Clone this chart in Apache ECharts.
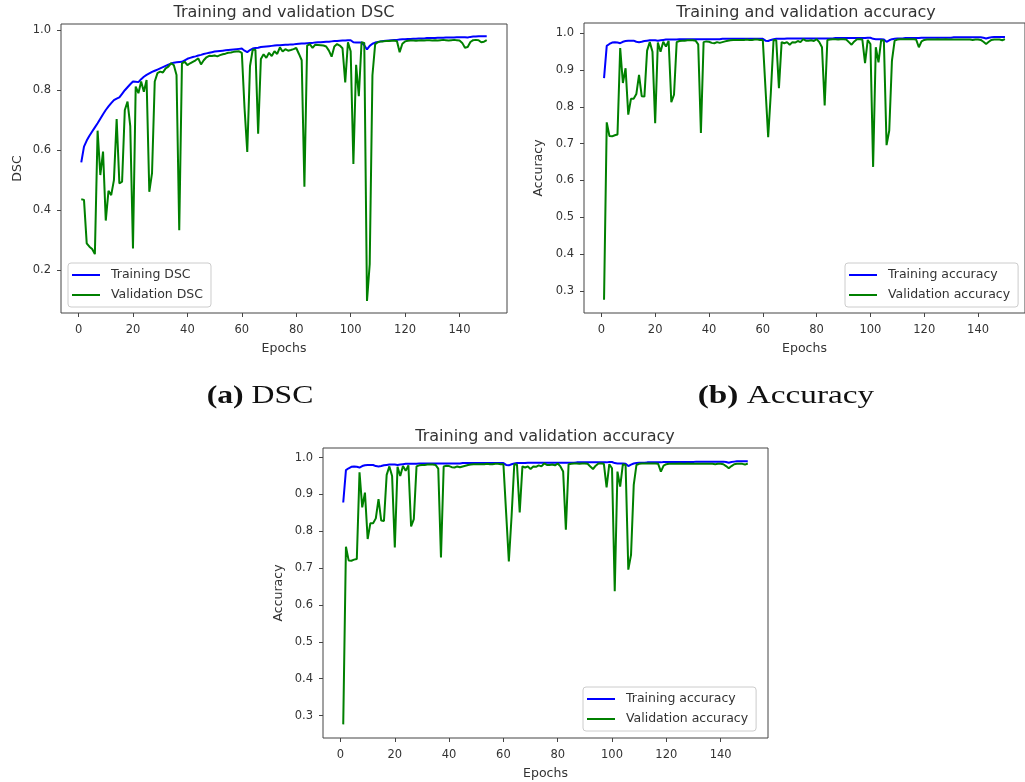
<!DOCTYPE html>
<html>
<head>
<meta charset="utf-8">
<title>Training and validation curves</title>
<script src="https://cdn.jsdelivr.net/npm/echarts@6/dist/echarts.min.js"></script>
<style>
  html, body { margin: 0; padding: 0; background: #fff; }
  #chart { width: 1025px; height: 782px; }
</style>
</head>
<body>
<div id="chart"></div>
<script>
// epochs 1..150
const epochs = Array.from({ length: 150 }, (_, i) => i + 1);
const xTicks = [0, 20, 40, 60, 80, 100, 120, 140];
const dscTicks = [0.2, 0.4, 0.6, 0.8, 1.0];
const accTicks = [0.3, 0.4, 0.5, 0.6, 0.7, 0.8, 0.9, 1.0];

// 训练 DSC
const trainDSC = [
    0.559, 0.612, 0.632, 0.648, 0.662, 0.676, 0.690, 0.705, 0.720, 0.734,
    0.746, 0.757, 0.767, 0.772, 0.776, 0.788, 0.800, 0.810, 0.820, 0.829,
    0.828, 0.827, 0.837, 0.845, 0.851, 0.856, 0.861, 0.865, 0.869, 0.873,
    0.877, 0.881, 0.885, 0.889, 0.892, 0.893, 0.894, 0.895, 0.900, 0.905,
    0.908, 0.911, 0.913, 0.916, 0.918, 0.921, 0.923, 0.925, 0.927, 0.929,
    0.930, 0.931, 0.932, 0.933, 0.934, 0.935, 0.936, 0.937, 0.938, 0.939,
    0.932, 0.927, 0.934, 0.939, 0.941, 0.942, 0.944, 0.945, 0.946, 0.947,
    0.948, 0.949, 0.950, 0.950, 0.951, 0.952, 0.952, 0.953, 0.953, 0.954,
    0.955, 0.956, 0.956, 0.957, 0.958, 0.958, 0.959, 0.960, 0.960, 0.961,
    0.962, 0.962, 0.963, 0.964, 0.964, 0.965, 0.966, 0.966, 0.967, 0.967,
    0.960, 0.959, 0.959, 0.959, 0.950, 0.936, 0.948, 0.955, 0.959, 0.961,
    0.963, 0.964, 0.965, 0.966, 0.967, 0.968, 0.968, 0.969, 0.970, 0.970,
    0.971, 0.971, 0.972, 0.972, 0.973, 0.973, 0.973, 0.974, 0.974, 0.974,
    0.974, 0.975, 0.975, 0.975, 0.976, 0.976, 0.976, 0.976, 0.977, 0.977,
    0.977, 0.977, 0.976, 0.978, 0.979, 0.979, 0.980, 0.980, 0.980, 0.980
];

// 验证 DSC
const valDSC = [
    0.436, 0.434, 0.289, 0.278, 0.270, 0.253, 0.665, 0.517, 0.595, 0.365,
    0.464, 0.450, 0.500, 0.704, 0.489, 0.495, 0.734, 0.762, 0.680, 0.272,
    0.812, 0.790, 0.829, 0.795, 0.834, 0.461, 0.523, 0.829, 0.857, 0.862,
    0.859, 0.873, 0.879, 0.890, 0.884, 0.851, 0.333, 0.890, 0.895, 0.884,
    0.890, 0.895, 0.900, 0.906, 0.886, 0.900, 0.910, 0.915, 0.914, 0.916,
    0.913, 0.917, 0.920, 0.922, 0.925, 0.926, 0.928, 0.929, 0.930, 0.925,
    0.740, 0.594, 0.880, 0.935, 0.935, 0.655, 0.904, 0.920, 0.908, 0.925,
    0.914, 0.930, 0.921, 0.943, 0.929, 0.937, 0.932, 0.934, 0.937, 0.941,
    0.921, 0.900, 0.478, 0.949, 0.954, 0.941, 0.952, 0.951, 0.950, 0.949,
    0.946, 0.932, 0.912, 0.946, 0.954, 0.949, 0.940, 0.826, 0.960, 0.930,
    0.554, 0.885, 0.780, 0.960, 0.958, 0.097, 0.220, 0.850, 0.954, 0.960,
    0.963, 0.963, 0.964, 0.964, 0.965, 0.965, 0.964, 0.927, 0.955, 0.963,
    0.965, 0.966, 0.966, 0.965, 0.966, 0.967, 0.966, 0.967, 0.967, 0.966,
    0.967, 0.966, 0.967, 0.968, 0.967, 0.966, 0.967, 0.968, 0.967, 0.966,
    0.958, 0.942, 0.944, 0.961, 0.967, 0.968, 0.967, 0.960, 0.962, 0.967
];

// 训练准确率
const trainAcc = [
    0.878, 0.966, 0.971, 0.975, 0.976, 0.975, 0.973, 0.977, 0.979, 0.980,
    0.980, 0.980, 0.977, 0.976, 0.977, 0.979, 0.980, 0.981, 0.981, 0.981,
    0.980, 0.981, 0.982, 0.983, 0.983, 0.983, 0.983, 0.983, 0.984, 0.984,
    0.984, 0.984, 0.984, 0.984, 0.984, 0.984, 0.984, 0.984, 0.984, 0.984,
    0.984, 0.984, 0.984, 0.984, 0.985, 0.985, 0.985, 0.985, 0.985, 0.985,
    0.985, 0.985, 0.985, 0.985, 0.985, 0.985, 0.985, 0.985, 0.985, 0.985,
    0.980, 0.979, 0.982, 0.984, 0.985, 0.985, 0.985, 0.985, 0.986, 0.986,
    0.986, 0.986, 0.986, 0.986, 0.986, 0.986, 0.986, 0.986, 0.986, 0.986,
    0.986, 0.986, 0.986, 0.986, 0.986, 0.986, 0.987, 0.987, 0.987, 0.987,
    0.987, 0.987, 0.987, 0.987, 0.987, 0.987, 0.987, 0.987, 0.988, 0.988,
    0.985, 0.984, 0.984, 0.984, 0.983, 0.977, 0.981, 0.984, 0.985, 0.986,
    0.986, 0.986, 0.987, 0.987, 0.987, 0.987, 0.987, 0.987, 0.988, 0.988,
    0.988, 0.988, 0.988, 0.988, 0.988, 0.988, 0.988, 0.988, 0.988, 0.988,
    0.989, 0.989, 0.989, 0.989, 0.989, 0.989, 0.989, 0.989, 0.989, 0.989,
    0.989, 0.988, 0.986, 0.988, 0.989, 0.990, 0.990, 0.990, 0.990, 0.990
];

// 验证准确率
const valAcc = [
    0.276, 0.758, 0.721, 0.720, 0.723, 0.725, 0.960, 0.865, 0.905, 0.779,
    0.822, 0.822, 0.835, 0.887, 0.829, 0.828, 0.953, 0.976, 0.950, 0.756,
    0.975, 0.950, 0.977, 0.964, 0.979, 0.813, 0.833, 0.976, 0.979, 0.980,
    0.980, 0.981, 0.981, 0.981, 0.980, 0.970, 0.729, 0.976, 0.978, 0.977,
    0.974, 0.973, 0.976, 0.974, 0.976, 0.978, 0.980, 0.981, 0.982, 0.982,
    0.982, 0.982, 0.982, 0.983, 0.982, 0.982, 0.983, 0.983, 0.982, 0.982,
    0.850, 0.718, 0.840, 0.982, 0.981, 0.851, 0.976, 0.973, 0.976, 0.969,
    0.976, 0.975, 0.979, 0.976, 0.984, 0.980, 0.980, 0.981, 0.979, 0.984,
    0.976, 0.962, 0.804, 0.982, 0.983, 0.984, 0.984, 0.983, 0.984, 0.984,
    0.983, 0.976, 0.969, 0.978, 0.984, 0.984, 0.983, 0.919, 0.982, 0.971,
    0.637, 0.962, 0.921, 0.982, 0.980, 0.696, 0.736, 0.926, 0.980, 0.983,
    0.984, 0.984, 0.984, 0.984, 0.984, 0.984, 0.983, 0.962, 0.978, 0.982,
    0.983, 0.983, 0.983, 0.983, 0.984, 0.983, 0.983, 0.984, 0.983, 0.983,
    0.983, 0.983, 0.983, 0.983, 0.983, 0.983, 0.983, 0.982, 0.983, 0.983,
    0.982, 0.977, 0.971, 0.977, 0.982, 0.983, 0.983, 0.983, 0.981, 0.984
];

document.addEventListener('DOMContentLoaded', function () {
    const chartDom = document.getElementById('chart');
    const myChart = echarts.init(chartDom, null, { renderer: 'canvas' });

    const FONT = 'DejaVu Sans';
    const SERIF = 'Liberation Serif';
    const TEXT = '#333';
    const FRAME = '#444';
    const BLUE = '#0000ff';
    const GREEN = '#008000';
    const TICK_SIZE = 11.5;
    const LABEL_SIZE = 12.5;

    const pairs = (vals) => epochs.map((e, i) => [e, vals[i]]);

    const xAxisFor = (gridIndex) => ({
        type: 'value',
        gridIndex: gridIndex,
        min: -6.45,
        max: 157.45,
        name: 'Epochs',
        nameLocation: 'middle',
        nameGap: 29,
        nameTextStyle: { color: TEXT, fontFamily: FONT, fontSize: LABEL_SIZE },
        axisLine: { show: false, onZero: false },
        axisTick: { show: true, inside: false, length: 4, customValues: xTicks, lineStyle: { color: FRAME } },
        axisLabel: { customValues: xTicks, margin: 11, color: TEXT, fontFamily: FONT, fontSize: TICK_SIZE },
        splitLine: { show: false }
    });

    const yAxisFor = (gridIndex, min, max, ticks, name, gap) => ({
        type: 'value',
        gridIndex: gridIndex,
        min: min,
        max: max,
        name: name,
        nameLocation: 'middle',
        nameGap: gap,
        nameTextStyle: { color: TEXT, fontFamily: FONT, fontSize: LABEL_SIZE },
        axisLine: { show: false, onZero: false },
        axisTick: { show: true, inside: false, length: 4, customValues: ticks, lineStyle: { color: FRAME } },
        axisLabel: {
            customValues: ticks, margin: 10, color: TEXT, fontFamily: FONT, fontSize: TICK_SIZE,
            formatter: (v) => v.toFixed(1)
        },
        splitLine: { show: false }
    });

    const lineSeries = (name, vals, color, idx) => ({
        name: name,
        type: 'line',
        xAxisIndex: idx,
        yAxisIndex: idx,
        data: pairs(vals),
        symbol: 'none',
        showSymbol: false,
        lineStyle: { width: 2, color: color },
        itemStyle: { color: color },
        emphasis: { disabled: true },
        z: 2
    });

    const legendFor = (left, top, names) => ({
        orient: 'vertical',
        left: left,
        top: top,
        data: names,
        icon: 'rect',
        itemWidth: 28,
        itemHeight: 2,
        itemGap: 6,
        padding: [5, 8, 5, 4],
        backgroundColor: 'rgba(255,255,255,0.8)',
        borderColor: '#cccccc',
        borderWidth: 1,
        borderRadius: 3,
        selectedMode: false,
        textStyle: { color: TEXT, fontFamily: FONT, fontSize: LABEL_SIZE, lineHeight: 14, padding: [0, 0, 0, 6] }
    });

    const plotTitle = (text, x, y) => ({
        text: text,
        left: x,
        top: y,
        textAlign: 'center',
        padding: 0,
        textStyle: { color: TEXT, fontFamily: FONT, fontSize: 16, fontWeight: 'normal' }
    });

    // 子图标题 (a) (b)，衬线字体，横向拉伸接近原图
    const caption = (tag, word, x, y, sx) => ({
        type: 'text',
        x: x,
        y: y,
        scaleX: sx,
        style: {
            text: '{b|' + tag + '} {r|' + word + '}',
            align: 'center',
            textAlign: 'center',
            verticalAlign: 'middle',
            textVerticalAlign: 'middle',
            fill: '#111',
            font: '26px "' + SERIF + '"',
            rich: {
                b: { fontFamily: SERIF, fontWeight: 'bold', fontSize: 26, fill: '#111', color: '#111' },
                r: { fontFamily: SERIF, fontWeight: 'normal', fontSize: 26, fill: '#111', color: '#111' }
            }
        }
    });

    const option = {
        animation: false,
        backgroundColor: '#ffffff',
        title: [
            plotTitle('Training and validation DSC', 284, 4.5),
            plotTitle('Training and validation accuracy', 806, 4.5),
            plotTitle('Training and validation accuracy', 545, 428.5)
        ],
        graphic: [
            caption('(a)', 'DSC', 260, 396, 1.22),
            caption('(b)', 'Accuracy', 786, 396, 1.28)
        ],
        grid: [
            { left: 61, top: 24, width: 446, height: 289, show: true, borderColor: FRAME, borderWidth: 1, backgroundColor: 'transparent' },
            { left: 584, top: 23, width: 444, height: 290, show: true, borderColor: FRAME, borderWidth: 1, backgroundColor: 'transparent' },
            { left: 323, top: 448, width: 445, height: 290, show: true, borderColor: FRAME, borderWidth: 1, backgroundColor: 'transparent' }
        ],
        xAxis: [xAxisFor(0), xAxisFor(1), xAxisFor(2)],
        yAxis: [
            yAxisFor(0, 0.0565, 1.021, dscTicks, 'DSC', 37),
            yAxisFor(1, 0.240, 1.028, accTicks, 'Accuracy', 39),
            yAxisFor(2, 0.239, 1.026, accTicks, 'Accuracy', 38)
        ],
        legend: [
            legendFor(68, 263, ['Training DSC', 'Validation DSC']),
            legendFor(845, 263, ['Training accuracy', 'Validation accuracy']),
            legendFor(583, 687, ['Training accuracy', 'Validation accuracy'])
        ],
        series: [
            lineSeries('Training DSC', trainDSC, BLUE, 0),
            lineSeries('Validation DSC', valDSC, GREEN, 0),
            lineSeries('Training accuracy', trainAcc, BLUE, 1),
            lineSeries('Validation accuracy', valAcc, GREEN, 1),
            lineSeries('Training accuracy', trainAcc, BLUE, 2),
            lineSeries('Validation accuracy', valAcc, GREEN, 2)
        ]
    };

    myChart.setOption(option);
    window.addEventListener('resize', function () {
        myChart.resize();
    });
});
</script>
</body>
</html>
